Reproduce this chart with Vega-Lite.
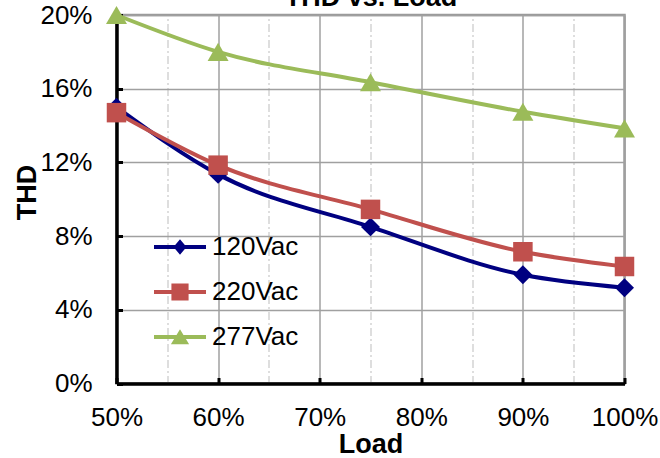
{
  "$schema": "https://vega.github.io/schema/vega-lite/v6.json",
  "width": 508,
  "height": 368.5,
  "autosize": {"type": "none"},
  "padding": {"left": 116.5, "top": 15, "right": 35.5, "bottom": 74.5},
  "background": "white",
  "config": {
    "font": "Liberation Sans",
    "view": {"stroke": "#9a9a9a", "strokeWidth": 2.5}
  },
  "data": {
    "values": [
      {"load": 50, "thd": 15.0, "series": "120Vac"},
      {"load": 60, "thd": 11.35, "series": "120Vac"},
      {"load": 75, "thd": 8.5, "series": "120Vac"},
      {"load": 90, "thd": 5.9, "series": "120Vac"},
      {"load": 100, "thd": 5.2, "series": "120Vac"},
      {"load": 50, "thd": 14.7, "series": "220Vac"},
      {"load": 60, "thd": 11.85, "series": "220Vac"},
      {"load": 75, "thd": 9.45, "series": "220Vac"},
      {"load": 90, "thd": 7.15, "series": "220Vac"},
      {"load": 100, "thd": 6.35, "series": "220Vac"},
      {"load": 50, "thd": 20.0, "series": "277Vac"},
      {"load": 60, "thd": 18.0, "series": "277Vac"},
      {"load": 75, "thd": 16.35, "series": "277Vac"},
      {"load": 90, "thd": 14.75, "series": "277Vac"},
      {"load": 100, "thd": 13.85, "series": "277Vac"}
    ]
  },
  "encoding": {
    "y": {
      "field": "thd",
      "type": "quantitative",
      "scale": {"domain": [0, 20], "nice": false, "zero": true},
      "axis": {
        "values": [0, 4, 8, 12, 16, 20],
        "labelExpr": "datum.value + '%'",
        "title": "THD",
        "titleFontSize": 27,
        "titleFontWeight": "bold",
        "titleColor": "black",
        "titleAngle": -90,
        "titleBaseline": "alphabetic",
        "titleAlign": "center",
        "titleX": -81.5,
        "titleY": 177,
        "grid": true,
        "gridColor": "#a0a0a0",
        "gridWidth": 1.5,
        "domainColor": "black",
        "domainWidth": 3.5,
        "tickColor": "black",
        "tickWidth": 3,
        "tickSize": -6,
        "labelFontSize": 26,
        "labelColor": "black",
        "labelPadding": 30.5,
        "labelBaseline": "middle",
        "labelFlush": false,
        "labelOverlap": false
      }
    },
    "color": {
      "field": "series",
      "type": "nominal",
      "scale": {"domain": ["120Vac", "220Vac", "277Vac"], "range": ["#000080", "#C0504D", "#9BBB59"]},
      "legend": {
        "orient": "none",
        "legendX": 37.5,
        "legendY": 206,
        "title": null,
        "labelFontSize": 26,
        "labelColor": "black",
        "labelOffset": 6,
        "symbolSize": 2704,
        "rowPadding": 6,
        "padding": 0,
        "encode": {
          "symbols": {
            "update": {
              "shape": {"signal": "datum.value === '120Vac' ? 'M-1,-0.077L1,-0.077L1,0.077L-1,0.077Z M0,-0.3L0.25,0L0,0.3L-0.25,0Z' : datum.value === '220Vac' ? 'M-1,-0.077L1,-0.077L1,0.077L-1,0.077Z M-0.33,-0.33L0.33,-0.33L0.33,0.33L-0.33,0.33Z' : 'M-1,-0.077L1,-0.077L1,0.077L-1,0.077Z M0,-0.3L0.35,0.28L-0.35,0.28Z'"},
              "size": {"value": 2704},
              "fill": {"signal": "scale('color', datum.value)"},
              "stroke": {"value": "transparent"},
              "strokeWidth": {"value": 0},
              "opacity": {"value": 1},
              "fillOpacity": {"value": 1}
            }
          }
        }
      }
    }
  },
  "layer": [
    {
      "mark": {"type": "line", "interpolate": "monotone", "strokeWidth": 4},
      "encoding": {
        "x": {
          "field": "load",
          "type": "quantitative",
          "scale": {"domain": [50, 100], "nice": false, "zero": false},
          "axis": {
            "values": [50, 60, 70, 80, 90, 100],
            "labelExpr": "datum.value + '%'",
            "title": "Load",
            "titleFontSize": 27,
            "titleFontWeight": "bold",
            "titleColor": "black",
            "titleBaseline": "alphabetic",
            "titleX": 254,
            "titleY": 68.5,
            "grid": true,
            "gridColor": "#a0a0a0",
            "gridWidth": 1.5,
            "domainColor": "black",
            "domainWidth": 3.5,
            "tickColor": "black",
            "tickWidth": 3,
            "tickSize": -6,
            "labelFontSize": 26,
            "labelColor": "black",
            "labelBaseline": "alphabetic",
            "labelPadding": 47.5,
            "labelFlush": false,
            "labelOverlap": false
          }
        }
      }
    },
    {
      "transform": [{"filter": "datum.series === '120Vac'"}],
      "mark": {"type": "point", "filled": true, "opacity": 1, "shape": "diamond", "size": 360},
      "encoding": {
        "x": {
          "field": "load",
          "type": "quantitative",
          "scale": {"domain": [50, 100], "nice": false, "zero": false},
          "axis": {
            "orient": "top",
            "values": [55, 65, 75, 85, 95],
            "labels": false,
            "ticks": false,
            "domain": false,
            "title": "THD vs. Load",
            "titleFontSize": 27,
            "titleFontWeight": "bold",
            "titleColor": "black",
            "titleBaseline": "alphabetic",
            "titleAlign": "center",
            "titleX": 254,
            "titleY": -10,
            "grid": true,
            "gridColor": "#bdbdbd",
            "gridWidth": 1,
            "gridDash": [8, 3, 2, 3]
          }
        }
      }
    },
    {
      "transform": [{"filter": "datum.series === '220Vac'"}],
      "mark": {"type": "point", "filled": true, "opacity": 1, "shape": "square", "size": 380},
      "encoding": {
        "x": {
          "field": "load",
          "type": "quantitative",
          "scale": {"domain": [50, 100], "nice": false, "zero": false},
          "axis": null
        }
      }
    },
    {
      "transform": [{"filter": "datum.series === '277Vac'"}],
      "mark": {"type": "point", "filled": true, "opacity": 1, "shape": "triangle-up", "size": 440},
      "encoding": {
        "x": {
          "field": "load",
          "type": "quantitative",
          "scale": {"domain": [50, 100], "nice": false, "zero": false},
          "axis": null
        }
      }
    }
  ],
  "resolve": {"axis": {"x": "independent"}}
}
